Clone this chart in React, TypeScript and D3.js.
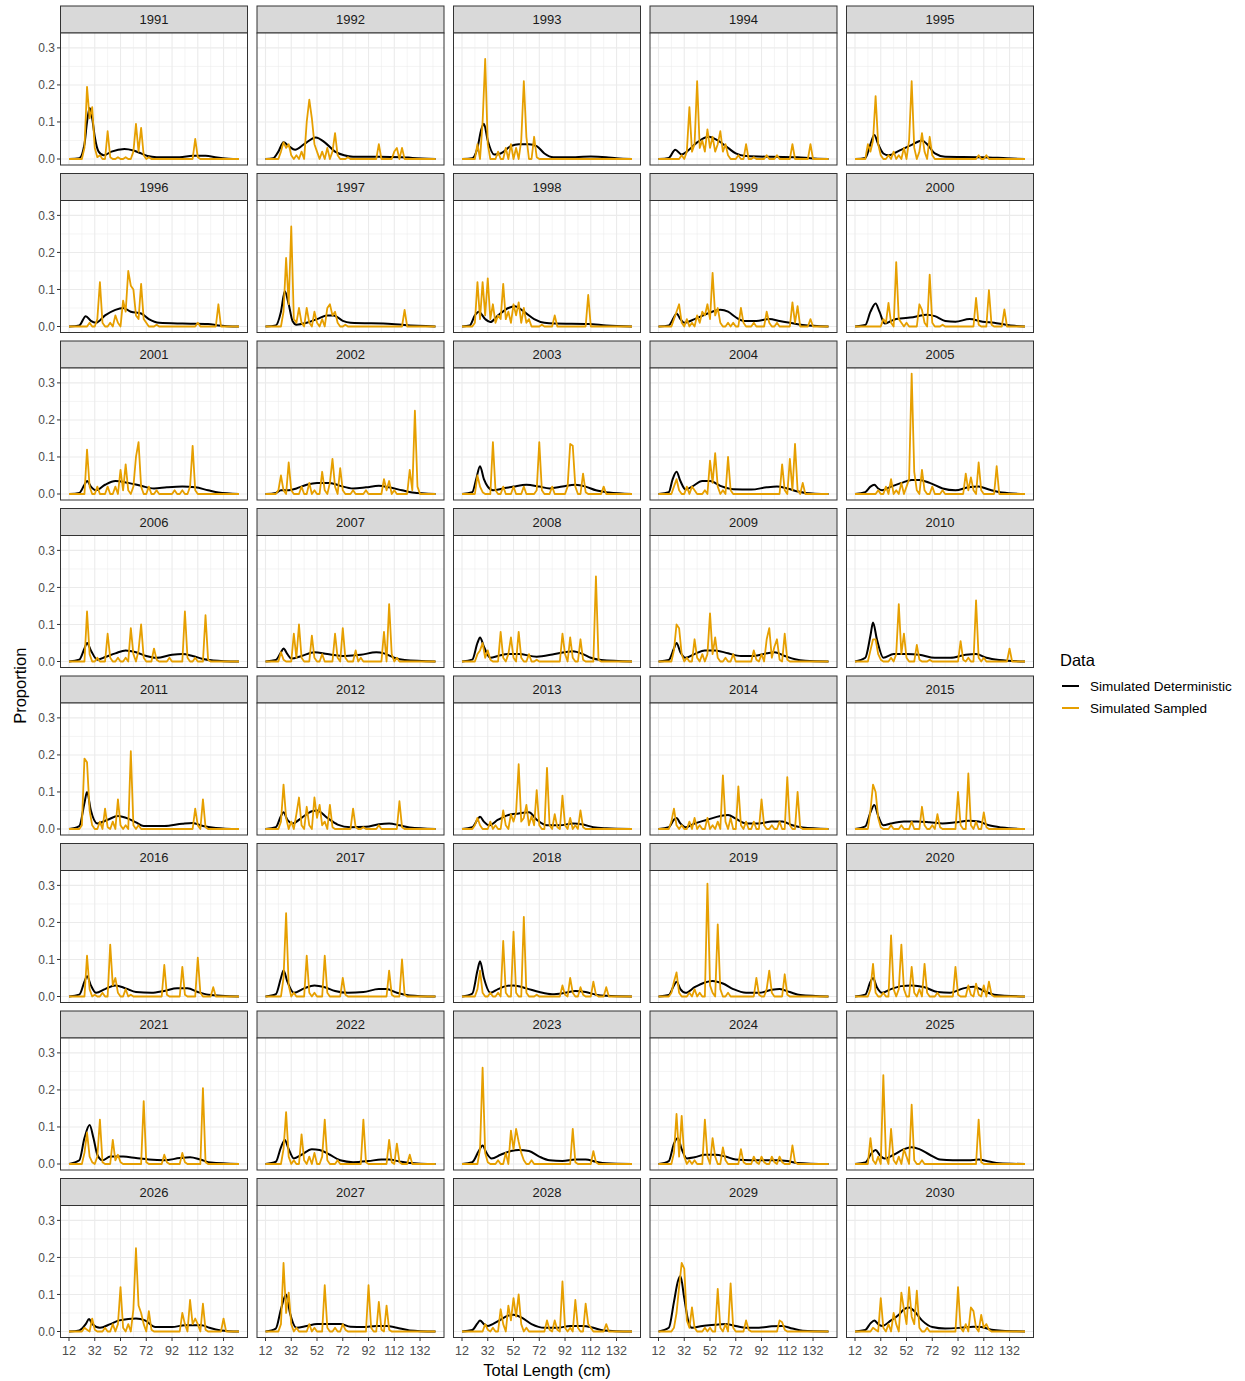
import React from "react";
import * as d3 from "d3";

// ---------- categories / ticks ----------
const years = [
  1991, 1992, 1993, 1994, 1995, 1996, 1997, 1998, 1999, 2000,
  2001, 2002, 2003, 2004, 2005, 2006, 2007, 2008, 2009, 2010,
  2011, 2012, 2013, 2014, 2015, 2016, 2017, 2018, 2019, 2020,
  2021, 2022, 2023, 2024, 2025, 2026, 2027, 2028, 2029, 2030,
];
const lengthBins = [
  12, 14, 16, 18, 20, 22, 24, 26, 28, 30, 32, 34, 36, 38, 40, 42, 44, 46, 48, 50,
  52, 54, 56, 58, 60, 62, 64, 66, 68, 70, 72, 74, 76, 78, 80, 82, 84, 86, 88, 90,
  92, 94, 96, 98, 100, 102, 104, 106, 108, 110, 112, 114, 116, 118, 120, 122, 124,
  126, 128, 130, 132, 134, 136, 138, 140, 142, 144,
];
const xMajorTicks = [12, 32, 52, 72, 92, 112, 132];
const xMinorTicks = [22, 42, 62, 82, 102, 122, 142];
const yMajorTicks = [0, 0.1, 0.2, 0.3];
const yMinorTicks = [0.05, 0.15, 0.25];
const seriesNames = ["Simulated Deterministic", "Simulated Sampled"];

type P = [number, number][];

// ---------- Simulated Deterministic (length, proportion) ----------
const det1991: P = [[12,0],[20,0.002],[24,0.04],[26,0.1],[28,0.138],[30,0.11],[32,0.06],[35,0.02],[39,0.01],[45,0.02],[55,0.027],[62,0.023],[68,0.015],[73,0.008],[80,0.005],[98,0.005],[108,0.009],[118,0.009],[127,0.004],[136,0.001],[144,0]];
const det1992: P = [[12,0],[18,0.002],[22,0.02],[26,0.045],[30,0.035],[35,0.025],[42,0.04],[51,0.058],[58,0.045],[66,0.02],[73,0.01],[80,0.006],[100,0.006],[118,0.005],[126,0.003],[144,0]];
const det1993: P = [[12,0],[20,0.002],[24,0.03],[27,0.08],[29,0.095],[32,0.05],[37,0.012],[42,0.015],[50,0.035],[56,0.04],[64,0.04],[70,0.035],[76,0.015],[83,0.005],[100,0.005],[112,0.007],[124,0.005],[132,0.002],[144,0]];
const det1994: P = [[12,0],[20,0.003],[25,0.025],[30,0.012],[34,0.02],[42,0.045],[51,0.06],[58,0.05],[66,0.03],[72,0.015],[80,0.008],[100,0.006],[120,0.005],[130,0.002],[144,0]];
const det1995: P = [[12,0],[20,0.003],[24,0.04],[27,0.065],[30,0.04],[34,0.015],[38,0.01],[46,0.022],[56,0.038],[64,0.05],[68,0.04],[74,0.015],[82,0.006],[110,0.005],[130,0.002],[144,0]];
const det1996: P = [[12,0],[20,0.003],[25,0.028],[29,0.015],[33,0.01],[40,0.03],[48,0.045],[54,0.05],[60,0.04],[68,0.035],[74,0.02],[82,0.01],[100,0.008],[120,0.007],[128,0.003],[144,0]];
const det1997: P = [[12,0],[20,0.003],[24,0.04],[27,0.095],[30,0.06],[33,0.015],[36,0.005],[44,0.01],[52,0.02],[60,0.03],[65,0.03],[72,0.015],[78,0.01],[110,0.007],[120,0.004],[144,0]];
const det1998: P = [[12,0],[18,0.003],[22,0.03],[25,0.04],[30,0.02],[34,0.012],[40,0.03],[48,0.05],[53,0.055],[60,0.04],[68,0.02],[76,0.01],[84,0.008],[110,0.007],[124,0.003],[144,0]];
const det1999: P = [[12,0],[20,0.003],[24,0.025],[26,0.035],[29,0.02],[32,0.01],[40,0.02],[50,0.035],[60,0.045],[66,0.04],[72,0.025],[78,0.015],[88,0.015],[98,0.02],[106,0.015],[114,0.01],[124,0.004],[144,0]];
const det2000: P = [[12,0],[20,0.004],[24,0.04],[28,0.062],[31,0.04],[35,0.008],[40,0.015],[44,0.02],[57,0.025],[68,0.032],[74,0.028],[82,0.015],[90,0.013],[101,0.02],[111,0.013],[120,0.01],[129,0.005],[136,0.002],[144,0]];
const det2001: P = [[12,0],[20,0.003],[24,0.025],[26,0.035],[29,0.02],[33,0.01],[40,0.025],[48,0.035],[58,0.03],[68,0.022],[78,0.015],[88,0.018],[100,0.02],[110,0.018],[120,0.01],[128,0.004],[144,0]];
const det2002: P = [[12,0],[20,0.003],[24,0.01],[30,0.01],[36,0.015],[44,0.025],[52,0.03],[62,0.03],[70,0.022],[80,0.015],[90,0.018],[100,0.022],[108,0.018],[118,0.01],[126,0.004],[144,0]];
const det2003: P = [[12,0],[20,0.005],[23,0.04],[26,0.075],[29,0.04],[32,0.02],[36,0.01],[44,0.015],[52,0.02],[62,0.025],[72,0.02],[80,0.015],[90,0.02],[100,0.025],[108,0.02],[116,0.01],[126,0.004],[144,0]];
const det2004: P = [[12,0],[20,0.005],[23,0.04],[26,0.06],[29,0.035],[33,0.012],[38,0.02],[46,0.035],[52,0.035],[60,0.022],[70,0.013],[84,0.012],[96,0.018],[104,0.02],[112,0.015],[120,0.007],[126,0.003],[144,0]];
const det2005: P = [[12,0],[20,0.005],[24,0.02],[27,0.025],[30,0.015],[33,0.01],[40,0.02],[48,0.03],[56,0.038],[62,0.038],[70,0.03],[80,0.015],[90,0.01],[100,0.018],[108,0.02],[116,0.012],[126,0.004],[144,0]];
const det2006: P = [[12,0],[20,0.005],[24,0.035],[26,0.05],[29,0.03],[34,0.005],[40,0.012],[48,0.022],[56,0.03],[64,0.025],[72,0.015],[80,0.01],[92,0.018],[100,0.02],[108,0.015],[116,0.007],[124,0.003],[144,0]];
const det2007: P = [[12,0],[20,0.004],[24,0.025],[26,0.035],[29,0.02],[32,0.008],[40,0.015],[50,0.025],[60,0.02],[74,0.015],[86,0.018],[98,0.025],[104,0.022],[112,0.01],[120,0.004],[144,0]];
const det2008: P = [[12,0],[20,0.005],[24,0.05],[26,0.065],[29,0.04],[34,0.01],[40,0.015],[48,0.02],[56,0.02],[70,0.013],[84,0.02],[98,0.028],[106,0.02],[112,0.01],[120,0.004],[144,0]];
const det2009: P = [[12,0],[20,0.004],[24,0.035],[26,0.05],[29,0.025],[33,0.01],[40,0.02],[48,0.03],[56,0.03],[66,0.022],[76,0.015],[86,0.015],[96,0.022],[102,0.025],[110,0.015],[118,0.006],[126,0.002],[144,0]];
const det2010: P = [[12,0],[20,0.01],[24,0.07],[26,0.105],[29,0.06],[34,0.01],[42,0.02],[52,0.02],[62,0.018],[74,0.01],[86,0.01],[98,0.018],[106,0.02],[114,0.01],[124,0.004],[144,0]];
const det2011: P = [[12,0],[20,0.008],[24,0.07],[26,0.1],[29,0.05],[34,0.015],[42,0.025],[50,0.035],[58,0.028],[64,0.018],[70,0.008],[86,0.008],[100,0.014],[108,0.016],[116,0.008],[126,0.003],[144,0]];
const det2012: P = [[12,0],[20,0.005],[24,0.035],[26,0.045],[29,0.025],[33,0.015],[40,0.03],[48,0.048],[52,0.05],[60,0.03],[68,0.012],[78,0.005],[90,0.006],[100,0.013],[108,0.015],[116,0.01],[124,0.004],[144,0]];
const det2013: P = [[12,0],[20,0.005],[24,0.025],[26,0.033],[29,0.02],[33,0.01],[40,0.025],[48,0.038],[56,0.042],[64,0.045],[70,0.025],[78,0.01],[88,0.01],[98,0.015],[106,0.012],[114,0.005],[124,0.002],[144,0]];
const det2014: P = [[12,0],[20,0.005],[24,0.025],[26,0.03],[29,0.015],[33,0.005],[40,0.015],[50,0.025],[60,0.035],[66,0.038],[72,0.028],[80,0.015],[90,0.015],[100,0.02],[108,0.02],[116,0.01],[124,0.004],[144,0]];
const det2015: P = [[12,0],[20,0.007],[24,0.045],[27,0.065],[30,0.035],[34,0.01],[40,0.015],[50,0.02],[60,0.02],[70,0.018],[80,0.015],[90,0.018],[100,0.022],[108,0.02],[116,0.01],[126,0.004],[144,0]];
const det2016: P = [[12,0],[20,0.005],[24,0.04],[26,0.055],[29,0.03],[33,0.01],[40,0.02],[48,0.03],[56,0.022],[64,0.012],[76,0.01],[86,0.015],[96,0.022],[104,0.022],[112,0.012],[120,0.005],[144,0]];
const det2017: P = [[12,0],[20,0.006],[24,0.05],[26,0.07],[29,0.04],[34,0.01],[42,0.022],[50,0.03],[58,0.025],[66,0.015],[76,0.01],[88,0.012],[100,0.02],[106,0.02],[114,0.01],[124,0.003],[144,0]];
const det2018: P = [[12,0],[20,0.008],[24,0.07],[26,0.095],[29,0.05],[34,0.01],[40,0.02],[46,0.028],[52,0.03],[62,0.022],[72,0.012],[82,0.006],[92,0.01],[100,0.015],[108,0.012],[116,0.005],[124,0.002],[144,0]];
const det2019: P = [[12,0],[20,0.004],[24,0.03],[26,0.04],[29,0.02],[33,0.01],[40,0.025],[48,0.038],[54,0.042],[62,0.035],[70,0.02],[80,0.01],[90,0.01],[100,0.018],[106,0.02],[114,0.012],[122,0.004],[144,0]];
const det2020: P = [[12,0],[20,0.005],[24,0.04],[26,0.05],[29,0.025],[33,0.01],[40,0.02],[48,0.028],[56,0.03],[66,0.025],[76,0.012],[86,0.01],[96,0.022],[104,0.026],[112,0.015],[120,0.005],[144,0]];
const det2021: P = [[12,0],[20,0.01],[24,0.07],[28,0.105],[31,0.07],[34,0.025],[38,0.01],[44,0.02],[54,0.02],[64,0.016],[74,0.012],[86,0.01],[98,0.016],[106,0.018],[114,0.012],[122,0.004],[144,0]];
const det2022: P = [[12,0],[20,0.006],[24,0.045],[27,0.065],[30,0.04],[34,0.015],[40,0.025],[48,0.04],[54,0.038],[62,0.025],[70,0.01],[80,0.005],[92,0.008],[102,0.012],[108,0.012],[116,0.007],[124,0.003],[144,0]];
const det2023: P = [[12,0],[20,0.005],[25,0.035],[28,0.05],[31,0.03],[35,0.015],[42,0.025],[50,0.035],[56,0.038],[64,0.035],[72,0.02],[80,0.01],[90,0.008],[100,0.012],[108,0.012],[116,0.006],[124,0.002],[144,0]];
const det2024: P = [[12,0],[20,0.008],[24,0.055],[27,0.07],[30,0.04],[34,0.015],[40,0.018],[48,0.025],[56,0.025],[64,0.02],[72,0.012],[84,0.01],[96,0.01],[104,0.01],[112,0.008],[120,0.003],[144,0]];
const det2025: P = [[12,0],[20,0.004],[25,0.03],[28,0.038],[31,0.025],[35,0.015],[42,0.025],[50,0.04],[56,0.045],[62,0.04],[70,0.025],[78,0.012],[88,0.01],[100,0.01],[108,0.012],[116,0.007],[124,0.002],[144,0]];
const det2026: P = [[12,0],[20,0.003],[25,0.02],[27.6,0.034],[30,0.02],[36,0.01],[44,0.02],[51,0.03],[58,0.034],[64,0.035],[71,0.03],[79,0.012],[92,0.012],[102,0.017],[115,0.017],[121,0.01],[130,0.003],[144,0]];
const det2027: P = [[12,0],[20,0.008],[24,0.06],[28,0.1],[31,0.05],[36,0.01],[44,0.015],[52,0.02],[62,0.02],[70,0.02],[78,0.013],[88,0.012],[98,0.015],[106,0.015],[114,0.01],[124,0.003],[144,0]];
const det2028: P = [[12,0],[20,0.004],[24,0.022],[26,0.03],[29,0.02],[32,0.015],[40,0.028],[48,0.043],[52,0.045],[58,0.038],[66,0.02],[76,0.01],[86,0.01],[96,0.015],[106,0.015],[114,0.01],[122,0.003],[144,0]];
const det2029: P = [[12,0],[20,0.01],[24,0.08],[27,0.135],[29,0.15],[32,0.09],[35,0.03],[38,0.01],[46,0.015],[56,0.018],[64,0.02],[72,0.015],[80,0.01],[90,0.01],[100,0.014],[108,0.015],[116,0.008],[124,0.002],[144,0]];
const det2030: P = [[12,0],[20,0.004],[24,0.022],[27,0.03],[30,0.02],[33,0.015],[40,0.03],[46,0.045],[50,0.06],[54,0.065],[58,0.055],[64,0.03],[72,0.012],[82,0.008],[94,0.01],[104,0.013],[110,0.012],[118,0.005],[126,0.002],[144,0]];

// ---------- Simulated Sampled (non-zero 2 cm bins: length, proportion) ----------
const smp1991: P = [[24,0.03],[26,0.195],[28,0.11],[30,0.14],[32,0.03],[34,0.005],[36,0.01],[42,0.075],[44,0.005],[50,0.005],[56,0.005],[62,0.02],[64,0.095],[66,0.02],[68,0.084],[70,0.01],[74,0.005],[110,0.054],[112,0.005]];
const smp1992: P = [[24,0.02],[26,0.045],[28,0.03],[30,0.04],[32,0.01],[36,0.01],[40,0.02],[44,0.1],[46,0.16],[48,0.11],[50,0.04],[52,0.02],[56,0.02],[60,0.03],[64,0.02],[66,0.07],[68,0.01],[76,0.005],[100,0.04],[112,0.02],[114,0.03],[118,0.03]];
const smp1993: P = [[24,0.04],[28,0.1],[30,0.27],[32,0.04],[40,0.02],[46,0.03],[50,0.04],[54,0.03],[58,0.05],[60,0.21],[62,0.06],[68,0.06],[70,0.005]];
const smp1994: P = [[30,0.01],[34,0.02],[36,0.14],[38,0.02],[40,0.04],[42,0.21],[44,0.03],[46,0.05],[48,0.02],[50,0.08],[52,0.03],[54,0.06],[56,0.02],[58,0.04],[60,0.075],[62,0.02],[64,0.04],[66,0.01],[74,0.01],[80,0.04],[86,0.005],[96,0.01],[104,0.01],[116,0.04],[130,0.04]];
const smp1995: P = [[22,0.04],[24,0.02],[26,0.05],[28,0.17],[30,0.04],[32,0.01],[38,0.01],[42,0.02],[46,0.01],[50,0.03],[54,0.05],[56,0.21],[58,0.03],[62,0.02],[64,0.07],[66,0.02],[70,0.06],[72,0.01],[108,0.01],[114,0.01]];
const smp1996: P = [[28,0.01],[34,0.02],[36,0.12],[38,0.01],[44,0.01],[48,0.03],[50,0.01],[54,0.07],[56,0.04],[58,0.15],[60,0.11],[62,0.1],[64,0.03],[66,0.02],[68,0.115],[70,0.02],[72,0.01],[80,0.005],[112,0.01],[128,0.06]];
const smp1997: P = [[26,0.04],[28,0.185],[30,0.06],[32,0.27],[34,0.02],[36,0.01],[38,0.05],[40,0.01],[44,0.05],[46,0.01],[50,0.04],[52,0.01],[56,0.02],[60,0.05],[62,0.06],[64,0.03],[66,0.04],[68,0.01],[74,0.005],[120,0.045]];
const smp1998: P = [[22,0.01],[24,0.12],[26,0.02],[28,0.12],[30,0.03],[32,0.13],[34,0.02],[36,0.06],[38,0.01],[40,0.03],[42,0.02],[44,0.115],[46,0.02],[48,0.04],[50,0.01],[52,0.06],[54,0.03],[56,0.065],[58,0.01],[60,0.05],[62,0.01],[64,0.02],[74,0.005],[84,0.03],[110,0.085]];
const smp1999: P = [[24,0.02],[26,0.04],[28,0.06],[30,0.01],[34,0.02],[38,0.01],[42,0.03],[44,0.01],[46,0.04],[48,0.03],[50,0.06],[52,0.02],[54,0.145],[56,0.03],[58,0.05],[60,0.01],[66,0.01],[70,0.01],[76,0.05],[78,0.01],[86,0.01],[96,0.04],[98,0.01],[104,0.01],[116,0.065],[118,0.01],[120,0.055],[130,0.02]];
const smp2000: P = [[34,0.02],[36,0.01],[38,0.064],[40,0.01],[44,0.174],[46,0.02],[48,0.01],[52,0.01],[62,0.06],[64,0.045],[66,0.01],[70,0.14],[72,0.01],[80,0.005],[106,0.077],[108,0.005],[116,0.098],[118,0.005],[128,0.046]];
const smp2001: P = [[26,0.12],[28,0.02],[34,0.02],[42,0.02],[48,0.02],[52,0.065],[54,0.01],[56,0.08],[58,0.01],[62,0.02],[64,0.1],[66,0.14],[68,0.02],[74,0.02],[80,0.01],[94,0.01],[100,0.01],[106,0.02],[108,0.13],[110,0.01]];
const smp2002: P = [[22,0.01],[24,0.05],[26,0.01],[30,0.085],[32,0.01],[40,0.02],[46,0.03],[50,0.01],[56,0.06],[58,0.01],[62,0.03],[64,0.095],[66,0.02],[70,0.07],[72,0.01],[80,0.01],[90,0.01],[104,0.04],[106,0.01],[108,0.035],[112,0.01],[124,0.065],[126,0.01],[128,0.225],[130,0.02]];
const smp2003: P = [[24,0.05],[26,0.02],[28,0.005],[36,0.14],[38,0.01],[44,0.02],[52,0.02],[60,0.02],[70,0.01],[72,0.14],[74,0.01],[82,0.02],[94,0.02],[96,0.135],[98,0.13],[100,0.02],[106,0.055],[108,0.005],[122,0.02]];
const smp2004: P = [[24,0.02],[26,0.04],[28,0.01],[34,0.02],[38,0.02],[40,0.01],[48,0.01],[52,0.09],[54,0.03],[56,0.11],[58,0.02],[62,0.01],[66,0.1],[68,0.01],[108,0.08],[110,0.01],[114,0.095],[116,0.01],[118,0.135],[120,0.01],[124,0.03]];
const smp2005: P = [[30,0.01],[36,0.02],[40,0.04],[44,0.01],[48,0.03],[52,0.02],[54,0.04],[56,0.325],[58,0.06],[60,0.01],[64,0.065],[66,0.01],[72,0.02],[80,0.01],[98,0.055],[100,0.01],[102,0.045],[104,0.01],[108,0.085],[110,0.01],[122,0.075]];
const smp2006: P = [[26,0.135],[28,0.02],[34,0.01],[42,0.075],[44,0.01],[50,0.01],[56,0.01],[60,0.09],[62,0.02],[66,0.03],[68,0.1],[70,0.01],[78,0.035],[80,0.005],[90,0.01],[102,0.135],[104,0.01],[110,0.01],[118,0.125],[120,0.005]];
const smp2007: P = [[24,0.025],[26,0.005],[34,0.075],[36,0.01],[38,0.1],[40,0.01],[48,0.07],[50,0.01],[56,0.02],[66,0.075],[68,0.01],[72,0.09],[74,0.01],[82,0.03],[86,0.01],[104,0.08],[108,0.155],[110,0.02],[114,0.01]];
const smp2008: P = [[24,0.02],[26,0.03],[28,0.05],[30,0.01],[32,0.03],[34,0.005],[42,0.08],[44,0.01],[48,0.02],[50,0.065],[52,0.01],[56,0.08],[58,0.01],[64,0.02],[70,0.005],[90,0.075],[92,0.02],[96,0.065],[98,0.01],[104,0.06],[106,0.005],[116,0.23],[118,0.005]];
const smp2009: P = [[24,0.03],[26,0.1],[28,0.09],[30,0.02],[34,0.01],[40,0.06],[42,0.01],[46,0.02],[50,0.02],[52,0.13],[54,0.02],[56,0.065],[58,0.01],[64,0.01],[70,0.02],[86,0.03],[88,0.005],[92,0.02],[96,0.06],[98,0.09],[100,0.01],[102,0.04],[104,0.06],[106,0.005],[110,0.075],[112,0.005]];
const smp2010: P = [[24,0.03],[26,0.06],[28,0.06],[30,0.02],[32,0.005],[40,0.01],[44,0.02],[46,0.155],[48,0.02],[50,0.075],[52,0.01],[60,0.045],[62,0.005],[70,0.005],[94,0.055],[96,0.005],[100,0.01],[106,0.165],[108,0.01],[112,0.01],[132,0.035]];
const smp2011: P = [[22,0.01],[24,0.19],[26,0.18],[28,0.05],[30,0.01],[36,0.02],[40,0.055],[42,0.005],[46,0.02],[50,0.08],[52,0.01],[56,0.01],[60,0.21],[62,0.01],[66,0.01],[110,0.055],[112,0.01],[116,0.08],[118,0.005]];
const smp2012: P = [[24,0.02],[26,0.12],[28,0.03],[32,0.02],[36,0.04],[38,0.085],[40,0.01],[44,0.06],[46,0.01],[50,0.085],[52,0.03],[54,0.065],[56,0.01],[58,0.02],[62,0.065],[64,0.005],[80,0.055],[82,0.005],[88,0.005],[100,0.01],[116,0.075],[118,0.005]];
const smp2013: P = [[22,0.01],[24,0.03],[26,0.01],[34,0.02],[38,0.01],[44,0.05],[46,0.01],[50,0.04],[52,0.02],[54,0.045],[56,0.175],[58,0.02],[60,0.03],[62,0.065],[64,0.01],[66,0.035],[68,0.01],[70,0.105],[72,0.01],[78,0.165],[80,0.01],[84,0.04],[86,0.005],[90,0.09],[92,0.01],[96,0.03],[100,0.01],[104,0.05],[106,0.005]];
const smp2014: P = [[22,0.02],[24,0.055],[26,0.01],[30,0.01],[36,0.02],[40,0.03],[44,0.01],[50,0.03],[54,0.01],[58,0.02],[62,0.145],[64,0.02],[68,0.03],[74,0.115],[76,0.01],[80,0.02],[86,0.02],[92,0.08],[94,0.01],[100,0.01],[106,0.02],[112,0.14],[114,0.01],[120,0.1],[122,0.005]];
const smp2015: P = [[24,0.05],[26,0.12],[28,0.1],[30,0.03],[32,0.005],[40,0.01],[48,0.01],[56,0.02],[64,0.06],[66,0.01],[72,0.01],[76,0.04],[78,0.005],[92,0.1],[94,0.01],[100,0.15],[102,0.01],[106,0.02],[112,0.045],[114,0.005]];
const smp2016: P = [[26,0.11],[28,0.02],[32,0.005],[38,0.01],[44,0.14],[46,0.03],[48,0.05],[50,0.01],[56,0.02],[60,0.005],[86,0.085],[88,0.005],[100,0.08],[102,0.005],[112,0.105],[114,0.01],[124,0.025]];
const smp2017: P = [[26,0.05],[28,0.225],[30,0.03],[34,0.01],[44,0.11],[46,0.01],[50,0.01],[58,0.11],[60,0.01],[72,0.05],[74,0.005],[108,0.07],[110,0.005],[118,0.1],[120,0.005]];
const smp2018: P = [[24,0.02],[26,0.07],[28,0.01],[34,0.01],[40,0.01],[44,0.15],[46,0.01],[52,0.175],[54,0.01],[60,0.215],[62,0.01],[70,0.005],[90,0.03],[92,0.005],[96,0.05],[98,0.01],[104,0.025],[106,0.005],[114,0.04],[116,0.005],[124,0.025]];
const smp2019: P = [[22,0.01],[24,0.04],[26,0.065],[28,0.01],[36,0.01],[40,0.02],[44,0.01],[50,0.305],[52,0.03],[54,0.01],[58,0.195],[60,0.02],[66,0.01],[88,0.05],[90,0.005],[96,0.02],[98,0.07],[100,0.01],[110,0.06],[112,0.005]];
const smp2020: P = [[24,0.02],[26,0.088],[28,0.01],[34,0.01],[40,0.165],[42,0.02],[46,0.02],[48,0.14],[50,0.02],[56,0.08],[58,0.01],[62,0.02],[66,0.088],[68,0.01],[76,0.01],[90,0.08],[92,0.005],[100,0.03],[102,0.005],[106,0.035],[108,0.005],[112,0.03],[116,0.04],[118,0.005]];
const smp2021: P = [[24,0.03],[26,0.085],[28,0.02],[30,0.005],[34,0.02],[36,0.12],[38,0.005],[46,0.065],[48,0.01],[50,0.025],[52,0.005],[70,0.17],[72,0.005],[86,0.025],[88,0.005],[100,0.03],[102,0.005],[116,0.205],[118,0.005]];
const smp2022: P = [[26,0.04],[28,0.14],[30,0.02],[34,0.01],[40,0.08],[42,0.01],[46,0.02],[50,0.03],[56,0.02],[58,0.12],[60,0.01],[68,0.01],[88,0.12],[90,0.005],[108,0.065],[110,0.005],[114,0.055],[116,0.005],[124,0.025]];
const smp2023: P = [[26,0.04],[28,0.26],[30,0.03],[32,0.005],[40,0.01],[46,0.03],[50,0.09],[52,0.04],[54,0.095],[56,0.06],[58,0.03],[60,0.01],[66,0.01],[98,0.095],[100,0.005],[114,0.035],[116,0.005]];
const smp2024: P = [[24,0.03],[26,0.135],[28,0.02],[30,0.13],[32,0.02],[36,0.01],[40,0.01],[48,0.12],[50,0.02],[54,0.07],[56,0.02],[62,0.045],[64,0.01],[76,0.04],[78,0.005],[86,0.02],[88,0.005],[92,0.02],[94,0.005],[100,0.02],[102,0.005],[106,0.02],[108,0.005],[116,0.05],[118,0.005]];
const smp2025: P = [[24,0.07],[26,0.01],[30,0.02],[34,0.24],[36,0.02],[40,0.095],[42,0.01],[46,0.02],[50,0.04],[52,0.02],[56,0.16],[58,0.01],[64,0.01],[108,0.12],[110,0.005]];
const smp2026: P = [[24,0.01],[26,0.005],[30,0.035],[32,0.005],[40,0.01],[46,0.02],[50,0.02],[52,0.12],[54,0.01],[58,0.02],[62,0.06],[64,0.225],[66,0.07],[68,0.05],[70,0.02],[74,0.055],[76,0.005],[100,0.05],[102,0.02],[106,0.085],[108,0.02],[110,0.035],[112,0.02],[116,0.075],[118,0.005],[132,0.035]];
const smp2027: P = [[24,0.02],[26,0.185],[28,0.05],[30,0.105],[32,0.02],[36,0.01],[46,0.02],[50,0.01],[58,0.125],[60,0.01],[66,0.01],[72,0.02],[74,0.005],[92,0.125],[94,0.01],[100,0.08],[102,0.005],[106,0.07],[108,0.005]];
const smp2028: P = [[30,0.02],[32,0.005],[36,0.01],[42,0.06],[44,0.02],[48,0.07],[50,0.03],[52,0.09],[54,0.04],[56,0.1],[58,0.02],[62,0.01],[78,0.03],[80,0.005],[84,0.03],[86,0.005],[90,0.135],[92,0.01],[96,0.01],[100,0.085],[102,0.01],[108,0.075],[110,0.02],[112,0.01],[124,0.02]];
const smp2029: P = [[24,0.01],[26,0.05],[28,0.12],[30,0.185],[32,0.17],[34,0.03],[36,0.01],[38,0.065],[40,0.01],[48,0.01],[52,0.01],[58,0.115],[60,0.01],[64,0.02],[68,0.13],[70,0.01],[80,0.03],[82,0.005],[106,0.03],[108,0.025],[110,0.005]];
const smp2030: P = [[26,0.01],[28,0.005],[32,0.09],[34,0.01],[38,0.02],[42,0.05],[44,0.02],[48,0.105],[50,0.06],[52,0.02],[54,0.12],[56,0.04],[58,0.02],[60,0.11],[62,0.01],[68,0.01],[92,0.12],[94,0.01],[98,0.02],[102,0.065],[104,0.055],[106,0.01],[110,0.045],[112,0.01],[114,0.02],[116,0.005]];

const deterministicSeries: P[] = [
  det1991, det1992, det1993, det1994, det1995, det1996, det1997, det1998, det1999, det2000,
  det2001, det2002, det2003, det2004, det2005, det2006, det2007, det2008, det2009, det2010,
  det2011, det2012, det2013, det2014, det2015, det2016, det2017, det2018, det2019, det2020,
  det2021, det2022, det2023, det2024, det2025, det2026, det2027, det2028, det2029, det2030,
];
const sampledSeries: P[] = [
  smp1991, smp1992, smp1993, smp1994, smp1995, smp1996, smp1997, smp1998, smp1999, smp2000,
  smp2001, smp2002, smp2003, smp2004, smp2005, smp2006, smp2007, smp2008, smp2009, smp2010,
  smp2011, smp2012, smp2013, smp2014, smp2015, smp2016, smp2017, smp2018, smp2019, smp2020,
  smp2021, smp2022, smp2023, smp2024, smp2025, smp2026, smp2027, smp2028, smp2029, smp2030,
];

// ---------- layout ----------
const W = 1245;
const H = 1381;
const NCOL = 5;
const panelW = 187;
const panelH = 132;
const stripH = 27;
const colPitch = 196.5;
const rowPitch = 167.5;
const left0 = 60.5;
const top0 = 6;
const FONT = "'Liberation Sans', Arial, Helvetica, sans-serif";
const BLACK = "#000000";
const ORANGE = "#E69F00";
const GRID = "#EBEBEB";
const BORDER = "#333333";

const yMax = 0.324;
const x = d3.scaleLinear().domain([12 - 0.05 * 132, 144 + 0.05 * 132]).range([0, panelW]);
const y = d3.scaleLinear().domain([-0.05 * yMax, yMax * 1.05]).range([panelH, 0]);

const detLine = d3
  .line<[number, number]>()
  .x((d) => x(d[0]))
  .y((d) => y(d[1]))
  .curve(d3.curveMonotoneX);
const smpLine = d3
  .line<[number, number]>()
  .x((d) => x(d[0]))
  .y((d) => y(d[1]));

function fullSample(sparse: P): P {
  const m = new Map(sparse.map((d) => [d[0], d[1]]));
  return lengthBins.map((L) => [L, m.get(L) ?? 0] as [number, number]);
}

function Panel({ idx }: { idx: number }) {
  const col = idx % NCOL;
  const row = Math.floor(idx / NCOL);
  const px = left0 + col * colPitch;
  const py = top0 + row * rowPitch;
  const isLeft = col === 0;
  const isBottom = row === Math.ceil(years.length / NCOL) - 1;
  const clipId = `clip-${idx}`;
  return (
    <g transform={`translate(${px},${py})`}>
      <rect x={0} y={0} width={panelW} height={stripH} fill="#D9D9D9" stroke={BORDER} strokeWidth={1} />
      <text x={panelW / 2} y={stripH / 2 + 4.6} textAnchor="middle" fontSize={13} fill="#1A1A1A" fontFamily={FONT}>
        {years[idx]}
      </text>
      <g transform={`translate(0,${stripH})`}>
        <defs>
          <clipPath id={clipId}>
            <rect x={0} y={0} width={panelW} height={panelH} />
          </clipPath>
        </defs>
        <rect x={0} y={0} width={panelW} height={panelH} fill="#FFFFFF" />
        {xMinorTicks.map((t) => (
          <line key={`xm${t}`} x1={x(t)} x2={x(t)} y1={0} y2={panelH} stroke={GRID} strokeWidth={0.55} />
        ))}
        {yMinorTicks.map((t) => (
          <line key={`ym${t}`} x1={0} x2={panelW} y1={y(t)} y2={y(t)} stroke={GRID} strokeWidth={0.55} />
        ))}
        {xMajorTicks.map((t) => (
          <line key={`xM${t}`} x1={x(t)} x2={x(t)} y1={0} y2={panelH} stroke={GRID} strokeWidth={1.1} />
        ))}
        {yMajorTicks.map((t) => (
          <line key={`yM${t}`} x1={0} x2={panelW} y1={y(t)} y2={y(t)} stroke={GRID} strokeWidth={1.1} />
        ))}
        <g clipPath={`url(#${clipId})`}>
          <path d={detLine(deterministicSeries[idx]) ?? ""} fill="none" stroke={BLACK} strokeWidth={2} strokeLinejoin="round" />
          <path d={smpLine(fullSample(sampledSeries[idx])) ?? ""} fill="none" stroke={ORANGE} strokeWidth={1.8} strokeLinejoin="round" />
        </g>
        <rect x={0} y={0} width={panelW} height={panelH} fill="none" stroke={BORDER} strokeWidth={1} />
        {isLeft &&
          yMajorTicks.map((t) => (
            <g key={`yt${t}`}>
              <line x1={-3.5} x2={0} y1={y(t)} y2={y(t)} stroke={BORDER} strokeWidth={1} />
              <text x={-5.5} y={y(t) + 4.2} textAnchor="end" fontSize={12} fill="#4D4D4D" fontFamily={FONT}>
                {t.toFixed(1)}
              </text>
            </g>
          ))}
        {isBottom &&
          xMajorTicks.map((t) => (
            <g key={`xt${t}`}>
              <line x1={x(t)} x2={x(t)} y1={panelH} y2={panelH + 3.5} stroke={BORDER} strokeWidth={1} />
              <text x={x(t)} y={panelH + 17} textAnchor="middle" fontSize={12.5} fill="#4D4D4D" fontFamily={FONT}>
                {t}
              </text>
            </g>
          ))}
      </g>
    </g>
  );
}

export default function App() {
  const gridRight = left0 + (NCOL - 1) * colPitch + panelW;
  const nRows = Math.ceil(years.length / NCOL);
  const gridBottom = top0 + (nRows - 1) * rowPitch + stripH + panelH;
  return (
    <svg
      width={W}
      height={H}
      viewBox={`0 0 ${W} ${H}`}
      style={{ position: "absolute", left: 0, top: 0, background: "#FFFFFF" }}
    >
      <rect x={0} y={0} width={W} height={H} fill="#FFFFFF" />
      {years.map((_, i) => (
        <Panel key={i} idx={i} />
      ))}
      <text
        x={(left0 + gridRight) / 2}
        y={gridBottom + 38}
        textAnchor="middle"
        fontSize={16.5}
        fill="#000000"
        fontFamily={FONT}
      >
        Total Length (cm)
      </text>
      <text
        transform={`translate(26,${(top0 + gridBottom) / 2 + 14}) rotate(-90)`}
        textAnchor="middle"
        fontSize={16.5}
        fill="#000000"
        fontFamily={FONT}
      >
        Proportion
      </text>
      <g transform="translate(1060,0)">
        <text x={0} y={666} fontSize={16.5} fill="#000000" fontFamily={FONT}>
          Data
        </text>
        {seriesNames.map((name, i) => (
          <g key={name} transform={`translate(0,${686 + i * 22})`}>
            <line x1={2} x2={19} y1={0} y2={0} stroke={i === 0 ? BLACK : ORANGE} strokeWidth={2} />
            <text x={30} y={4.6} fontSize={13.5} fill="#000000" fontFamily={FONT}>
              {name}
            </text>
          </g>
        ))}
      </g>
    </svg>
  );
}
